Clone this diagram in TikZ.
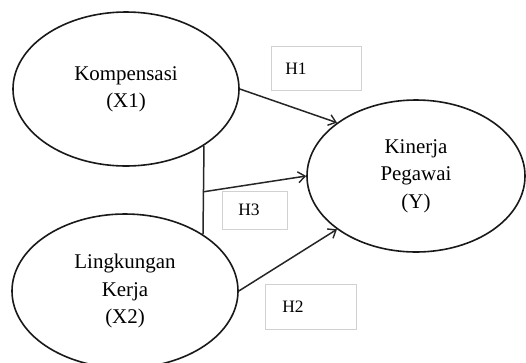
\documentclass[tikz,border=0pt]{standalone}
\usepackage{fontspec}
\setmainfont{Liberation Serif}
\usetikzlibrary{shapes.geometric,arrows.meta,calc}
\begin{document}
\begin{tikzpicture}[x=1bp,y=-1bp,
  var/.style={draw=black!90, line width=1.6bp, ellipse, inner sep=0pt, align=center,
    font=\fontsize{21}{27.5}\selectfont},
  hbox/.style={draw=black!18, line width=0.6bp, rectangle, anchor=north west,
    align=left, font=\fontsize{17.5}{20}\selectfont},
  conn/.style={draw=black!85, line width=1.5bp},
  arr/.style={conn, -{Straight Barb[length=7bp,width=11bp,line width=1.4bp]}}
]
\useasboundingbox (0,0) rectangle (526,362);
\clip (0,0) rectangle (526,362);
\node[var, minimum width=226bp, minimum height=154bp] (X1) at (126,89) {Kompensasi\\(X1)};
\node[var, minimum width=226bp, minimum height=154bp] (X2) at (125,291) {Lingkungan\\Kerja\\(X2)};
\node[var, minimum width=218bp, minimum height=152bp] (Y) at (416,176) {Kinerja\\Pegawai\\(Y)};

\node[hbox, minimum width=90bp, minimum height=44bp, inner xsep=14bp, text width=62bp] (b1) at (271,46) {H1};
\node[hbox, minimum width=65bp, minimum height=38bp, inner xsep=16bp, text width=33bp] (b3) at (222,191) {H3};
\node[hbox, minimum width=91bp, minimum height=45bp, inner xsep=17bp, text width=57bp] (b2) at (265,284) {H2};

\draw[arr] (X1.east) -- (Y.146);
\draw[arr] (X2.east) -- (Y.214);
\draw[conn] (X1.-36) -- (X2.36);
\coordinate (m) at ($(X1.-36)!0.52!(X2.36)$);
\draw[arr] (m) -- (Y.west);
\end{tikzpicture}
\end{document}
